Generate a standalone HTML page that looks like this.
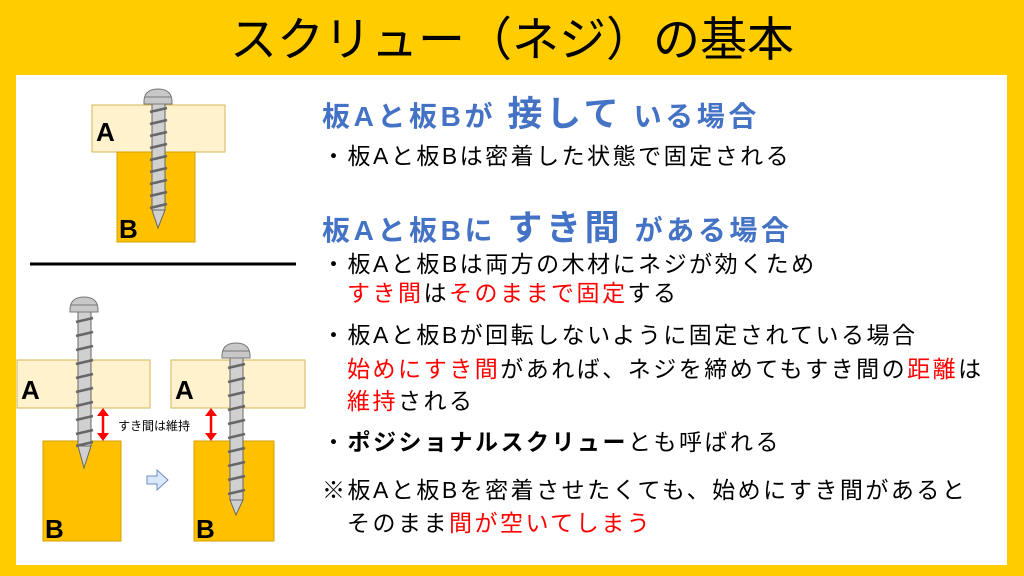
<!DOCTYPE html>
<html><head><meta charset="utf-8"><style>
body{margin:0;width:1024px;height:576px;background:#FFCC00;position:relative;overflow:hidden;font-family:"Liberation Sans","Noto Sans CJK JP",sans-serif;}
.t{position:absolute;white-space:nowrap;line-height:1;}
.r{color:#FF0000}
.h{color:#4472C4;font-weight:bold;font-size:28px;letter-spacing:3.6px}
.p{font-size:23px;color:#000;letter-spacing:2.5px}
</style></head><body>
<div class="t" style="left:0;width:1024px;text-align:center;top:16px;font-size:47px;">スクリュー（ネジ）の基本</div>
<div style="position:absolute;left:16px;top:75px;width:991px;height:490px;background:#fff"></div>
<svg style="position:absolute;left:0;top:0" width="1024" height="576">
<defs>
<g id="scr">
<path d="M-14,0 Q-15,-15 0,-15 Q15,-15 14,0 Z" fill="#c8c8c8" stroke="#777" stroke-width="1"/>
<line x1="-13" y1="-7" x2="13" y2="-7" stroke="#777"/>
</g>
</defs>
<rect x="92" y="105" width="133" height="47" fill="#FFF2CC" stroke="#D6B656"/>
<rect x="117" y="152" width="78" height="90" fill="#FFC000" stroke="#D6A000"/>
<rect x="152" y="104" width="13" height="106" fill="#d0d0d0" stroke="#666"/>
<path d="M152,210 L165,210 L158,228 Z" fill="#d0d0d0" stroke="#666"/>
<path d="M150,112l17,-4M150,124l17,-4M150,136l17,-4M150,148l17,-4M150,160l17,-4M150,172l17,-4M150,184l17,-4M150,196l17,-4M150,208l17,-4" stroke="#666" stroke-width="2.5"/>
<use href="#scr" x="158" y="104"/>
<text x="96" y="141" font-size="26" font-weight="bold" font-family="Liberation Sans">A</text>
<text x="119" y="238" font-size="26" font-weight="bold" font-family="Liberation Sans">B</text>
<line x1="30" y1="264" x2="296" y2="264" stroke="#000" stroke-width="3"/>
<rect x="17" y="360" width="133" height="48" fill="#FFF2CC" stroke="#D6B656"/>
<rect x="43" y="441" width="78" height="100" fill="#FFC000" stroke="#D6A000"/>
<rect x="78" y="312" width="13" height="134" fill="#d0d0d0" stroke="#666"/>
<path d="M78,446 L91,446 L84,468 Z" fill="#d0d0d0" stroke="#666"/>
<path d="M76,322l17,-4M76,336l17,-4M76,350l17,-4M76,364l17,-4M76,378l17,-4M76,392l17,-4M76,406l17,-4M76,420l17,-4M76,434l17,-4M76,446l17,-4" stroke="#666" stroke-width="2.5"/>
<use href="#scr" x="84" y="312"/>
<text x="21" y="399" font-size="26" font-weight="bold" font-family="Liberation Sans">A</text>
<text x="45" y="538" font-size="26" font-weight="bold" font-family="Liberation Sans">B</text>
<line x1="103" y1="414" x2="103" y2="435" stroke="#f00" stroke-width="2.5"/>
<path d="M97,416 L103,408 L109,416 Z M97,433 L103,441 L109,433 Z" fill="#f00"/>
<text x="118" y="430" font-size="12" font-family="Liberation Sans,Noto Sans CJK JP">すき間は維持</text>
<path d="M147,476 L157,476 L157,470 L168,480 L157,490 L157,484 L147,484 Z" fill="#DAE8FC" stroke="#6C8EBF"/>
<rect x="171" y="360" width="134" height="48" fill="#FFF2CC" stroke="#D6B656"/>
<rect x="194" y="441" width="80" height="100" fill="#FFC000" stroke="#D6A000"/>
<rect x="230" y="358" width="13" height="142" fill="#d0d0d0" stroke="#666"/>
<path d="M230,500 L243,500 L236,515 Z" fill="#d0d0d0" stroke="#666"/>
<path d="M228,368l17,-4M228,382l17,-4M228,396l17,-4M228,410l17,-4M228,424l17,-4M228,438l17,-4M228,452l17,-4M228,466l17,-4M228,480l17,-4M228,494l17,-4" stroke="#666" stroke-width="2.5"/>
<use href="#scr" x="236" y="358"/>
<text x="175" y="399" font-size="26" font-weight="bold" font-family="Liberation Sans">A</text>
<text x="196" y="538" font-size="26" font-weight="bold" font-family="Liberation Sans">B</text>
<line x1="211" y1="414" x2="211" y2="435" stroke="#f00" stroke-width="2.5"/>
<path d="M205,416 L211,408 L217,416 Z M205,433 L211,441 L217,433 Z" fill="#f00"/>
</svg>
<div class="t h" style="left:322px;top:97px">板Aと板Bが <span style="font-size:35px">接して</span> いる場合</div>
<div class="t p" style="left:322px;top:145px">・板Aと板Bは密着した状態で固定される</div>
<div class="t h" style="left:322px;top:211px">板Aと板Bに <span style="font-size:35px">すき間</span> がある場合</div>
<div class="t p" style="left:322px;top:253px">・板Aと板Bは両方の木材にネジが効くため</div>
<div class="t p" style="left:347px;top:282px"><span class="r">すき間</span>は<span class="r">そのままで固定</span>する</div>
<div class="t p" style="left:322px;top:324px">・板Aと板Bが回転しないように固定されている場合</div>
<div class="t p" style="left:347px;top:358px"><span class="r">始めにすき間</span>があれば、ネジを締めてもすき間の<span class="r">距離</span>は</div>
<div class="t p" style="left:347px;top:390px"><span class="r">維持</span>される</div>
<div class="t p" style="left:322px;top:431px">・<b>ポジショナルスクリュー</b>とも呼ばれる</div>
<div class="t p" style="left:322px;top:479px">※板Aと板Bを密着させたくても、始めにすき間があると</div>
<div class="t p" style="left:347px;top:512px">そのまま<span class="r">間が空いてしまう</span></div>
</body></html>
